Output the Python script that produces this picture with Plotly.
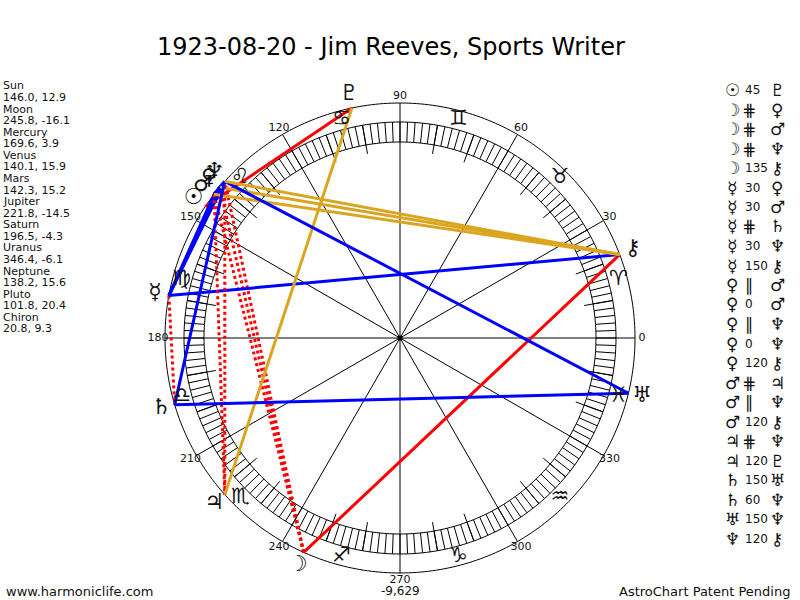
import numpy as np
import plotly.graph_objects as go

# ---------------- data ----------------
planet_names = ["Sun", "Moon", "Mercury", "Venus", "Mars", "Jupiter",
                "Saturn", "Uranus", "Neptune", "Pluto", "Chiron"]
planet_glyphs = ["☉", "☽", "☿", "♀", "♂", "♃", "♄", "♅", "♆", "♇", "⚷"]
longitudes = [146.0, 245.8, 169.6, 140.1, 142.3, 221.8, 196.5, 346.4, 138.2, 101.8, 20.8]
declinations = [12.9, -16.1, 3.9, 15.9, 15.2, -14.5, -4.3, -6.1, 15.6, 20.4, 9.3]

sign_glyphs = ["♈", "♉", "♊", "♋", "♌", "♍", "♎", "♏", "♐", "♑", "♒", "♓"]
degree_ticks = [0, 30, 60, 90, 120, 150, 180, 210, 240, 270, 300, 330]

aspect_from = ["Sun", "Moon", "Moon", "Moon", "Moon", "Mercury", "Mercury", "Mercury",
               "Mercury", "Mercury", "Venus", "Venus", "Venus", "Venus", "Venus",
               "Mars", "Mars", "Mars", "Jupiter", "Jupiter", "Saturn", "Saturn",
               "Uranus", "Neptune"]
aspect_type = ["45", "⋕", "⋕", "⋕", "135", "30", "30", "⋕", "30", "150", "∥", "0", "∥",
               "0", "120", "⋕", "∥", "120", "⋕", "120", "150", "60", "150", "120"]
aspect_to = ["Pluto", "Venus", "Mars", "Neptune", "Chiron", "Venus", "Mars", "Saturn",
             "Neptune", "Chiron", "Mars", "Mars", "Neptune", "Neptune", "Chiron",
             "Jupiter", "Neptune", "Chiron", "Neptune", "Pluto", "Uranus", "Neptune",
             "Neptune", "Chiron"]

title_text = "1923-08-20 - Jim Reeves, Sports Writer"
footer_left = "www.harmoniclife.com"
footer_mid = "-9,629"
footer_right = "AstroChart Patent Pending"

# ---------------- styling ----------------
R_OUT, R_RING_O, R_RING_I, R_TICK = 235, 216, 196, 187
R_LINE, R_DEG, R_SIGN, R_GLYPH = 235, 242, 226, 249
FONT = "DejaVu Sans"
RED, BLUE, GOLD = "#ff0000", "#0000ff", "#daa520"
aspect_style = {
    "45": (RED, "solid"), "135": (RED, "solid"), "⋕": (RED, "dot"),
    "30": (BLUE, "solid"), "150": (BLUE, "solid"), "60": (BLUE, "solid"),
    "0": (BLUE, "solid"), "∥": (BLUE, "dot"), "120": (GOLD, "solid"),
}

fig = go.Figure()
circ = np.arange(0, 361, 1.0)

def add(r, th, color="black", width=1, dash="solid"):
    fig.add_trace(go.Scatterpolar(r=r, theta=th, mode="lines",
                                  line=dict(color=color, width=width, dash=dash),
                                  hoverinfo="skip"))

# circles
for rr in (R_OUT, R_RING_O, R_RING_I):
    add([rr] * len(circ), circ)

# ring hatching every 2 degrees
rs, ts = [], []
for a in np.arange(0, 360, 2):
    rs += [R_RING_I, R_RING_O, None]
    ts += [a, a, None]
add(rs, ts)

# 10 degree ticks
rs, ts = [], []
for a in range(0, 360, 10):
    if a % 30:
        rs += [R_TICK, R_RING_O, None]
        ts += [a, a, None]
add(rs, ts)

# 30 degree lines through the centre
rs, ts = [], []
for a in degree_ticks:
    rs += [R_OUT, 0, None]
    ts += [a, a, None]
add(rs, ts)

# aspect lines
lon = dict(zip(planet_names, longitudes))
for p1, asp, p2 in zip(aspect_from, aspect_type, aspect_to):
    col, dash = aspect_style[asp]
    add([R_LINE, R_LINE], [lon[p1], lon[p2]], color=col, width=3, dash=dash)

# centre dot
fig.add_trace(go.Scatterpolar(r=[0], theta=[0], mode="markers",
                              marker=dict(color="black", size=5), hoverinfo="skip"))

# degree labels
fig.add_trace(go.Scatterpolar(r=[R_DEG] * len(degree_ticks), theta=degree_ticks, mode="text",
                              text=[str(d) for d in degree_ticks],
                              textfont=dict(family=FONT, size=11, color="#111"),
                              hoverinfo="skip"))
# sign glyphs
fig.add_trace(go.Scatterpolar(r=[R_SIGN] * 12, theta=[15 + 30 * i for i in range(12)],
                              mode="text", text=sign_glyphs,
                              textfont=dict(family=FONT, size=21, color="#111"),
                              hoverinfo="skip"))
# planet glyphs
fig.add_trace(go.Scatterpolar(r=[R_GLYPH] * len(longitudes), theta=longitudes,
                              mode="text", text=planet_glyphs,
                              textfont=dict(family=FONT, size=22, color="#111"),
                              hoverinfo="skip"))

# ---------------- annotations ----------------
ann = []
def txt(x, y, s, size, anchor="left", color="#111"):
    ann.append(dict(x=x / 800, y=1 - y / 600, xref="paper", yref="paper", text=s,
                    showarrow=False, xanchor=anchor, yanchor="middle",
                    font=dict(family=FONT, size=size, color=color)))

txt(391, 47, title_text, 24, "center", "#000")
y = 86
for n, l, d in zip(planet_names, longitudes, declinations):
    txt(1, y, n, 11)
    txt(1, y + 11.57, f"{l:.1f}, {d:.1f}", 11)
    y += 2 * 11.57

gly = dict(zip(planet_names, planet_glyphs))
y = 90
for p1, asp, p2 in zip(aspect_from, aspect_type, aspect_to):
    txt(732, y, gly[p1], 17, "center")
    if asp in ("⋕", "∥"):
        txt(749, y, asp, 17, "center")
    else:
        txt(743, y, asp, 12, "left")
    txt(777, y, gly[p2], 17, "center")
    y += 19.5

txt(4, 591, footer_left, 13)
txt(400, 591, footer_mid, 12, "center")
txt(792, 591, footer_right, 13, "right")

cy = (600 - 338) / 600
hr = 260 / 600
fig.update_layout(
    width=800, height=600, margin=dict(l=0, r=0, t=0, b=0),
    paper_bgcolor="white", plot_bgcolor="white", showlegend=False,
    annotations=ann, hovermode=False,
    polar=dict(
        domain=dict(x=[(400 - 260) / 800, (400 + 260) / 800], y=[cy - hr, cy + hr]),
        bgcolor="white",
        radialaxis=dict(range=[0, 260], visible=False, showgrid=False),
        angularaxis=dict(rotation=0, direction="counterclockwise", visible=False,
                         showgrid=False),
    ),
)
fig.write_html("out.html", config={"displayModeBar": False})

# remove the browser's default page margin so the 800x600 figure fills the window
with open("out.html", encoding="utf-8") as f:
    html = f.read()
html = html.replace("<body>", '<body style="margin:0;padding:0;overflow:hidden">', 1)
with open("out.html", "w", encoding="utf-8") as f:
    f.write(html)
